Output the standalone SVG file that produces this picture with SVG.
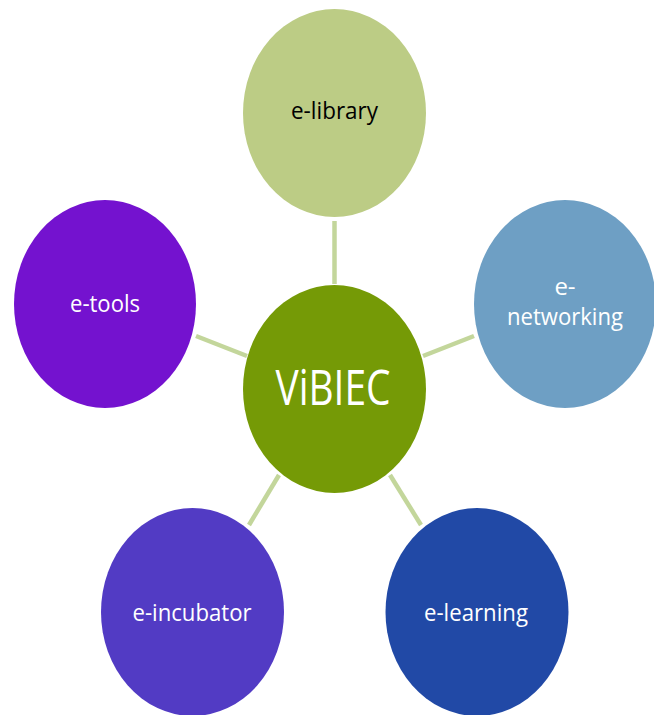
<svg xmlns="http://www.w3.org/2000/svg" width="654" height="715" viewBox="0 0 654 715">
<style>
.lbl{font-family:"Open Sans","Liberation Sans",sans-serif;text-anchor:middle;font-size:24px;fill:#ffffff}
.conn line{stroke:#c3d69b;stroke-width:4.5}
</style>
<rect width="654" height="715" fill="#ffffff"/>
<g id="connectors" class="conn">
<line x1="334.5" y1="221" x2="334.5" y2="284"/>
<line x1="196" y1="336" x2="247" y2="356"/>
<line x1="423" y1="356" x2="474" y2="336"/>
<line x1="279" y1="475" x2="249" y2="525"/>
<line x1="390" y1="475" x2="421" y2="525"/>
</g>
<g id="e-library">
<ellipse cx="334.5" cy="113" rx="91.5" ry="104" fill="#bccc85"/>
<text class="lbl" x="334.5" y="119" style="fill:#000000" textLength="87" lengthAdjust="spacingAndGlyphs">e-library</text>
</g>
<g id="e-tools">
<ellipse cx="105" cy="304" rx="91" ry="104" fill="#7412cf"/>
<text class="lbl" x="105" y="312" textLength="70" lengthAdjust="spacingAndGlyphs">e-tools</text>
</g>
<g id="e-networking">
<ellipse cx="565" cy="304" rx="91" ry="104" fill="#6e9fc4"/>
<text class="lbl" x="565" y="295">e-</text>
<text class="lbl" x="565" y="325" textLength="116" lengthAdjust="spacingAndGlyphs">networking</text>
</g>
<g id="vibiec">
<ellipse cx="334.5" cy="389" rx="91.5" ry="104" fill="#759a06"/>
<text class="lbl" x="333" y="405" style="font-size:50px" textLength="115" lengthAdjust="spacingAndGlyphs">ViBIEC</text>
</g>
<g id="e-incubator">
<ellipse cx="192.5" cy="612" rx="91.5" ry="104" fill="#523bc4"/>
<text class="lbl" x="192" y="621" textLength="119" lengthAdjust="spacingAndGlyphs">e-incubator</text>
</g>
<g id="e-learning">
<ellipse cx="477" cy="612" rx="91.5" ry="104" fill="#2149a6"/>
<text class="lbl" x="476" y="621" textLength="104" lengthAdjust="spacingAndGlyphs">e-learning</text>
</g>
</svg>
